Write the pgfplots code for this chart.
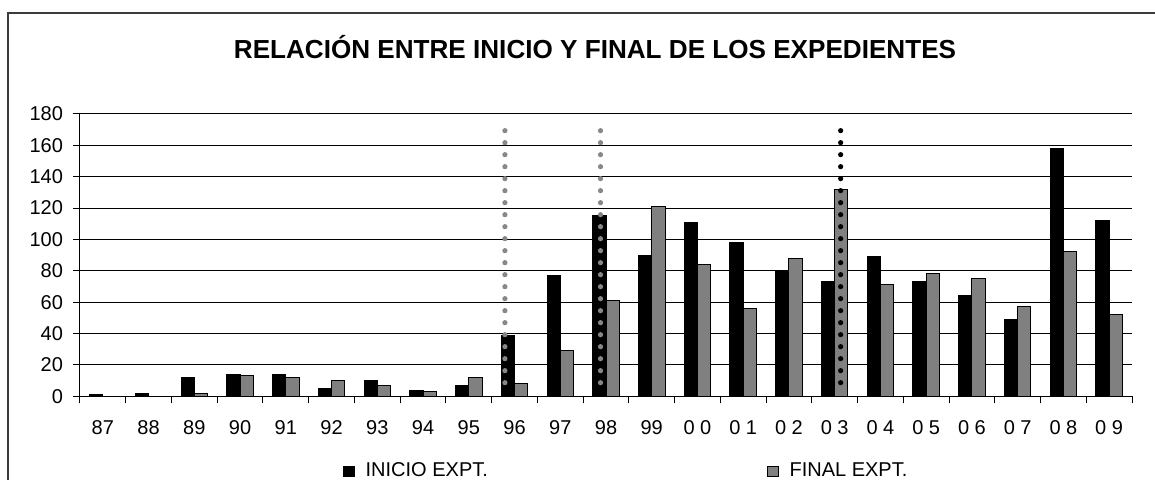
\documentclass[border=0pt]{standalone}
\usepackage{fontspec}
\setmainfont{Liberation Sans}
\usepackage{pgfplots}
\pgfplotsset{compat=1.18}
\definecolor{bargray}{RGB}{128,128,128}
\definecolor{dotgray}{RGB}{135,135,135}
\definecolor{framegray}{RGB}{60,60,60}
\begin{document}
\begin{tikzpicture}
\begin{axis}[
  scale only axis, width=526pt, height=141.2pt,
  xmin=-0.5, xmax=22.5, ymin=0, ymax=180,
  axis lines*=left,
  axis line style={black, line width=0.5pt},
  ytick={0,20,...,180},
  xtick={0,...,22},
  xticklabels={87,88,89,90,91,92,93,94,95,96,97,98,99,0 0,0 1,0 2,0 3,0 4,0 5,0 6,0 7,0 8,0 9},
  minor xtick={-0.5,0.5,...,22.5},
  major x tick style={draw=none},
  tick align=outside,
  tick style={black, line width=0.5pt},
  minor tick length=3.5pt,
  major tick length=3.5pt,
  ymajorgrids, grid style={black, line width=0.5pt},
  /pgf/number format/assume math mode=true,
  yticklabel style={font=\fontsize{10}{12}\selectfont, xshift=-1.5pt},
  xticklabel style={font=\fontsize{10}{12}\selectfont, yshift=-5pt},
  legend image code/.code={\draw[#1,draw=black,line width=0.5pt] (0pt,-2.65pt) rectangle (5.3pt,2.65pt); \path (8.8pt,0pt);},
  legend style={at={(axis description cs:0.2497,-0.266)}, anchor=west, draw=none, fill=none,
    inner sep=0pt, font=\fontsize{10}{12}\selectfont,
    /tikz/every even column/.append style={column sep=137.5pt}},
  legend columns=2,
]
\addplot[ybar, bar width=0.29, bar shift=-0.145, fill=black, draw=black, line width=0.5pt]
 coordinates {(0,1) (1,2) (2,12) (3,14) (4,14) (5,5) (6,10) (7,4) (8,7) (9,39) (10,77) (11,115) (12,90) (13,111) (14,98) (15,80) (16,73) (17,89) (18,73) (19,64) (20,49) (21,158) (22,112)};
\addlegendentry{INICIO EXPT.}
\addplot[ybar, bar width=0.29, bar shift=0.145, fill=bargray, draw=black, line width=0.5pt]
 coordinates {(2,2) (3,13) (4,12) (5,10) (6,7) (7,3) (8,12) (9,8) (10,29) (11,61) (12,121) (13,84) (14,56) (15,88) (16,132) (17,71) (18,78) (19,75) (20,57) (21,92) (22,52)};
\addlegendentry{FINAL EXPT.}
\addplot[forget plot, dotgray, line width=2.6pt, line cap=round, dash pattern=on 0pt off 6pt]
 coordinates {(8.79,8.7) (8.79,169.4)};
\addplot[forget plot, dotgray, line width=2.6pt, line cap=round, dash pattern=on 0pt off 6pt]
 coordinates {(10.88,8.7) (10.88,169.4)};
\addplot[forget plot, black, line width=2.6pt, line cap=round, dash pattern=on 0pt off 6pt]
 coordinates {(16.13,8.7) (16.13,169.4)};
\coordinate (O) at (rel axis cs:0,0);
\end{axis}
\node[font=\bfseries\fontsize{13.05}{15}\selectfont] at ([shift={(257.5pt,174.4pt)}]O) {RELACIÓN ENTRE INICIO Y FINAL DE LOS EXPEDIENTES};
\draw[framegray, line width=0.75pt] ([shift={(-36pt,-80pt)}]O) -- ([shift={(-36pt,191.7pt)}]O) -- ([shift={(545pt,191.7pt)}]O);
\pgfresetboundingbox
\path[use as bounding box] ([shift={(-40pt,-41.35pt)}]O) rectangle ([shift={(537.5pt,198.15pt)}]O);
\end{tikzpicture}
\end{document}
